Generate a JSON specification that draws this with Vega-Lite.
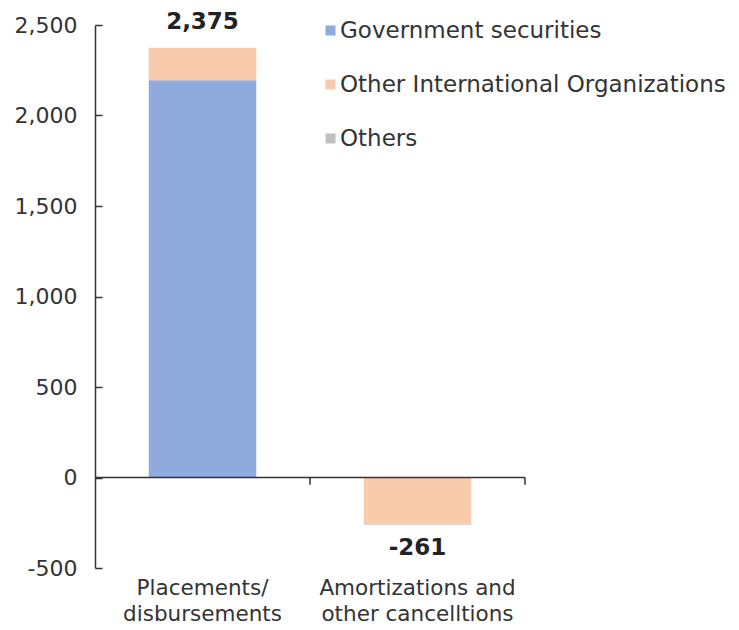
{
  "$schema": "https://vega.github.io/schema/vega-lite/v6.json",
  "width": 430,
  "height": 543,
  "autosize": {"type": "none"},
  "padding": {"left": 95, "top": 25, "right": 214, "bottom": 62},
  "background": "white",
  "config": {
    "font": "DejaVu Sans",
    "view": {"stroke": null},
    "axis": {"labelFont": "DejaVu Sans", "labelColor": "#333333", "grid": false},
    "legend": {"labelFont": "DejaVu Sans"}
  },
  "datasets": {
    "segments": [
      {"category": "Placements/disbursements", "series": "Government securities", "ord": 1, "value": 2195},
      {"category": "Placements/disbursements", "series": "Other International Organizations", "ord": 2, "value": 180},
      {"category": "Placements/disbursements", "series": "Others", "ord": 3, "value": 0},
      {"category": "Amortizations and other cancelltions", "series": "Government securities", "ord": 1, "value": 0},
      {"category": "Amortizations and other cancelltions", "series": "Other International Organizations", "ord": 2, "value": -258},
      {"category": "Amortizations and other cancelltions", "series": "Others", "ord": 3, "value": -3}
    ]
  },
  "layer": [
    {
      "data": {"name": "segments"},
      "mark": {"type": "bar"},
      "encoding": {
        "x": {
          "field": "category",
          "type": "nominal",
          "sort": ["Placements/disbursements", "Amortizations and other cancelltions"],
          "scale": {"paddingInner": 0.5, "paddingOuter": 0.25},
          "axis": {
            "orient": "bottom",
            "title": null,
            "domain": false,
            "ticks": false,
            "labelAngle": 0,
            "labelFontSize": 21.5,
            "labelPadding": 9,
            "labelLineHeight": 26,
            "labelBaseline": "top",
            "labelLimit": 0,
            "labelExpr": "datum.value == 'Placements/disbursements' ? ['Placements/', 'disbursements'] : ['Amortizations and', 'other cancelltions']"
          }
        },
        "y": {
          "field": "value",
          "type": "quantitative",
          "stack": "zero",
          "scale": {"domain": [-500, 2500], "nice": false},
          "axis": {
            "title": null,
            "values": [-500, 0, 500, 1000, 1500, 2000, 2500],
            "labelExpr": "replace(format(datum.value, ',.0f'), '\u2212', '-')",
            "labelFontSize": 22,
            "domainColor": "#333333",
            "domainWidth": 1.5,
            "tickColor": "#333333",
            "tickWidth": 1.5,
            "tickSize": -7,
            "labelPadding": 25
          }
        },
        "color": {
          "field": "series",
          "type": "nominal",
          "scale": {
            "domain": ["Government securities", "Other International Organizations", "Others"],
            "range": ["#8FAADC", "#F8CBAD", "#BFBFBF"]
          },
          "legend": {
            "title": null,
            "orient": "none",
            "legendX": 224,
            "legendY": -6,
            "symbolType": "square",
            "symbolSize": 100,
            "symbolStrokeWidth": 0,
            "labelFontSize": 23,
            "labelColor": "#333333",
            "labelOffset": -2,
            "labelLimit": 0,
            "rowPadding": 30
          }
        },
        "order": {"field": "ord"}
      }
    },
    {
      "data": {"values": [{}]},
      "mark": {"type": "rule", "color": "#333333", "strokeWidth": 1.5},
      "encoding": {"y": {"datum": 0}}
    },
    {
      "data": {"name": "segments"},
      "transform": [
        {"aggregate": [{"op": "sum", "field": "value", "as": "total"}], "groupby": ["category"]}
      ],
      "mark": {"type": "rule", "color": "#333333", "strokeWidth": 1.5},
      "encoding": {
        "x": {"field": "category", "type": "nominal", "sort": ["Placements/disbursements", "Amortizations and other cancelltions"], "bandPosition": 1.5},
        "y": {"datum": 0},
        "y2": {"datum": -40}
      }
    },
    {
      "data": {"name": "segments"},
      "transform": [
        {"aggregate": [{"op": "sum", "field": "value", "as": "total"}], "groupby": ["category"]},
        {"filter": "datum.total > 0"},
        {"calculate": "replace(format(datum.total, ',.0f'), '\u2212', '-')", "as": "label"}
      ],
      "mark": {"type": "text", "fontWeight": "bold", "fontSize": 23, "baseline": "middle", "dy": -26, "color": "#222222"},
      "encoding": {
        "x": {"field": "category", "type": "nominal", "sort": ["Placements/disbursements", "Amortizations and other cancelltions"]},
        "y": {"field": "total", "type": "quantitative"},
        "text": {"field": "label", "type": "nominal"}
      }
    },
    {
      "data": {"name": "segments"},
      "transform": [
        {"aggregate": [{"op": "sum", "field": "value", "as": "total"}], "groupby": ["category"]},
        {"filter": "datum.total < 0"},
        {"calculate": "replace(format(datum.total, ',.0f'), '\u2212', '-')", "as": "label"}
      ],
      "mark": {"type": "text", "fontWeight": "bold", "fontSize": 23, "baseline": "middle", "dy": 23, "color": "#222222"},
      "encoding": {
        "x": {"field": "category", "type": "nominal", "sort": ["Placements/disbursements", "Amortizations and other cancelltions"]},
        "y": {"field": "total", "type": "quantitative"},
        "text": {"field": "label", "type": "nominal"}
      }
    }
  ]
}
